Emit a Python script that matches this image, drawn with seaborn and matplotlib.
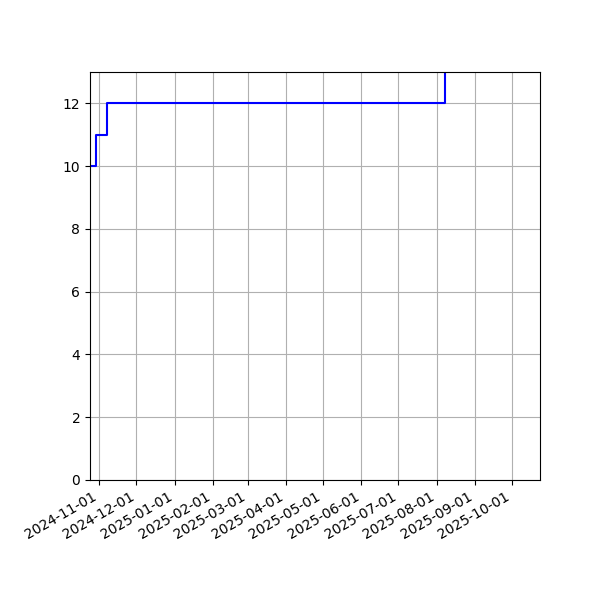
import pandas as pd
import matplotlib
matplotlib.use('Agg')
import matplotlib.pyplot as plt
import matplotlib.dates as mdates
import seaborn as sns


# change points of the step series (value holds until next date)
dates = ['2024-10-24', '2024-10-29', '2024-11-07',
         '2025-08-08', '2025-10-24']
values = [10, 11, 12, 20, 20]

x_start = '2024-10-24 12:00'
x_end = '2025-10-23 12:00'


def main():
    df = pd.DataFrame({'date': pd.to_datetime(dates), 'value': values})

    fig, ax = plt.subplots(figsize=(6, 6), dpi=100)
    sns.lineplot(data=df, x='date', y='value', ax=ax, color='blue',
                 drawstyle='steps-post', linewidth=1.5)
    ax.set_xlim(pd.Timestamp(x_start), pd.Timestamp(x_end))
    ax.set_ylim(0, 13)
    ax.set_xlabel('')
    ax.set_ylabel('')
    ax.grid(True)
    ax.xaxis.set_major_locator(mdates.MonthLocator())
    ax.xaxis.set_major_formatter(mdates.DateFormatter('%Y-%m-%d'))
    fig.autofmt_xdate()
    fig.subplots_adjust(left=0.15, right=0.9, top=0.88, bottom=0.2)
    fig.savefig('out.png', dpi=100)


if __name__ == '__main__':
    main()
